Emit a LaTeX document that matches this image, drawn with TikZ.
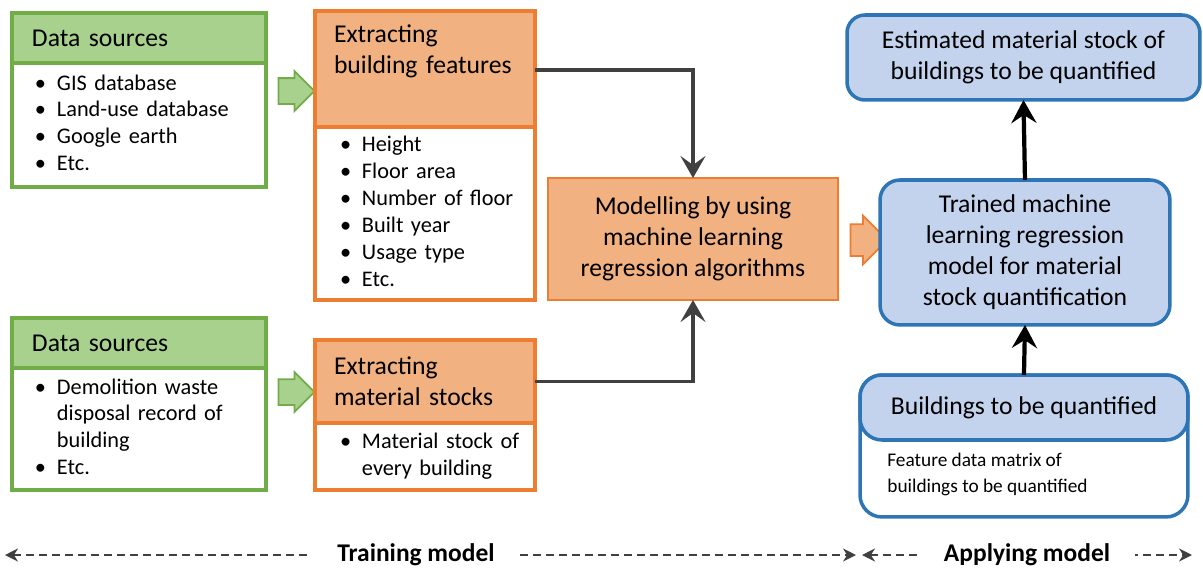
\documentclass[tikz,border=0pt]{standalone}
\usepackage{fontspec}
\setmainfont{Carlito}
\usetikzlibrary{positioning, arrows.meta, shapes.arrows}
\definecolor{greenfill}{RGB}{169,209,142}
\definecolor{greenline}{RGB}{112,173,71}
\definecolor{orangefill}{RGB}{241,177,128}
\definecolor{orangeline}{RGB}{237,125,49}
\definecolor{bluefill}{RGB}{196,211,237}
\definecolor{blueline}{RGB}{46,117,182}
\definecolor{darkline}{RGB}{64,64,64}
\newcommand{\hdrfont}{\fontsize{14.6}{17.6}\selectfont}
\newcommand{\lstfont}{\fontsize{12.7}{15.3}\selectfont}
\newcommand{\notefont}{\fontsize{11}{14.8}\selectfont}
\newcommand{\blt}{\makebox[0.44cm][l]{\textbullet}}
\newcommand{\bltpad}{\hspace*{0.44cm}}
\newcommand{\blist}[1]{\begin{tabular}{@{}l@{}}#1\end{tabular}}
\tikzset{
  greenhead/.style={
    rectangle, draw=greenline, fill=greenfill, line width=2.2pt,
    minimum width=5.08cm, minimum height=1cm, outer sep=0pt,
    inner xsep=0.4cm, text width=4.28cm, align=left, font=\hdrfont
  },
  greenbody/.style={
    rectangle, draw=greenline, fill=white, line width=2.2pt,
    minimum width=5.08cm, outer sep=0pt,
    inner xsep=0.46cm, text width=4.16cm, align=left, font=\lstfont
  },
  orangehead/.style={
    rectangle, draw=orangeline, fill=orangefill, line width=2.2pt,
    minimum width=4.4cm, outer sep=0pt,
    inner xsep=0.38cm, text width=3.64cm, align=left, font=\hdrfont
  },
  orangebody/.style={
    rectangle, draw=orangeline, fill=white, line width=2.2pt,
    minimum width=4.4cm, outer sep=0pt,
    inner xsep=0.5cm, text width=3.4cm, align=left, font=\lstfont
  },
  modelbox/.style={
    rectangle, draw=orangeline, fill=orangefill, line width=1.4pt,
    outer sep=0pt, align=center, font=\hdrfont
  },
  bluebox/.style={
    rectangle, rounded corners=0.4cm, draw=blueline, fill=bluefill,
    line width=2pt, outer sep=0pt, align=center, font=\hdrfont
  },
  blueframe/.style={
    rectangle, rounded corners=0.44cm, draw=blueline, fill=white,
    line width=2pt, outer sep=0pt
  },
  notetext/.style={align=left, font=\notefont, inner sep=0pt},
  greenarrow/.style={
    single arrow, draw=greenline, fill=greenfill, line width=1pt,
    inner xsep=0pt, inner ysep=0.24cm, single arrow head extend=0.14cm,
    minimum height=0.72cm, minimum width=0.76cm
  },
  orangearrow/.style={
    single arrow, draw=orangeline, fill=orangefill, line width=1pt,
    inner xsep=0pt, inner ysep=0.3cm, single arrow head extend=0.17cm,
    minimum height=0.74cm, minimum width=0.94cm
  },
  flowarrow/.style={
    -{Stealth[length=0.44cm, width=0.5cm, inset=0.18cm]},
    draw=darkline, line width=2pt
  },
  blackarrow/.style={
    -{Stealth[length=0.46cm, width=0.5cm, inset=0.16cm]},
    draw=black, line width=2.4pt
  },
  spanline/.style={
    {Stealth[length=0.26cm, width=0.26cm]}-{Stealth[length=0.26cm, width=0.26cm]},
    draw=darkline, line width=1.2pt, dash pattern=on 0.16cm off 0.1cm
  },
  spanlabel/.style={fill=white, inner xsep=0.5cm, font=\bfseries\fontsize{14.5}{17}\selectfont}
}
\begin{document}
\begin{tikzpicture}[x=0.02cm, y=-0.02cm]
  \useasboundingbox (0,0) rectangle (1203,572);

  % training: data sources
  \node[greenhead, anchor=north west] (ds1h) at (12,13) {Data sources};
  \node[greenbody, below=0pt of ds1h, minimum height=2.48cm] (ds1b)
    {\blist{\blt GIS database\\ \blt Land-use database\\ \blt Google earth\\ \blt Etc.}};
  \node[greenhead, anchor=north west] (ds2h) at (12,318) {Data sources};
  \node[greenbody, below=0pt of ds2h, minimum height=2.44cm] (ds2b)
    {\blist{\blt Demolition waste\\ \bltpad disposal record of\\ \bltpad building\\ \blt Etc.}};

  \node[greenarrow] (ga1) at (290,91) {};
  \node[greenarrow] (ga2) at (290,392) {};

  % training: extraction
  \node[orangehead, anchor=north west, minimum height=2.32cm] (ef1h) at (315,11)
    {Extracting\\building features\\\strut};
  \node[orangebody, below=0pt of ef1h, minimum height=3.46cm] (ef1b)
    {\blist{\blt Height\\ \blt Floor area\\ \blt Number of floor\\ \blt Built year\\ \blt Usage type\\ \blt Etc.}};
  \node[orangehead, anchor=north west, minimum height=1.66cm] (ef2h) at (315,340)
    {Extracting\\material stocks};
  \node[orangebody, below=0pt of ef2h, minimum height=1.34cm] (ef2b)
    {\blist{\blt Material stock of\\ \bltpad every building}};

  \node[modelbox, anchor=north west, minimum width=5.8cm, minimum height=2.44cm] (model) at (548,178)
    {Modelling by using\\machine learning\\regression algorithms};

  \draw[flowarrow] (ef1h.east |- 0,70) -| (model.north);
  \draw[flowarrow] (ef2h.east) -| (model.south);

  \node[orangearrow] (oa) at (861,240) {};

  % applying
  \node[bluebox, anchor=north west, minimum width=5.8cm, minimum height=2.9cm] (trained) at (880,180)
    {Trained machine\\learning regression\\model for material\\stock quantification};
  \node[bluebox, anchor=north west, minimum width=7.06cm, minimum height=1.7cm, rounded corners=0.36cm] (est) at (847,15)
    {Estimated material stock of\\buildings to be quantified};
  \node[blueframe, anchor=north west, minimum width=6.56cm, minimum height=2.84cm] (bq) at (860,375) {};
  \node[bluebox, anchor=north west, minimum width=6.56cm, minimum height=1.3cm, rounded corners=0.44cm] (bqh) at (860,375)
    {Buildings to be quantified};
  \node[notetext, anchor=west] (bqt) at (887,474) {Feature data matrix of\\buildings to be quantified};

  \draw[blackarrow] (trained.north) -- (est.south);
  \draw[blackarrow] (bqh.north) -- (trained.south);

  % phases
  \coordinate (trL) at (5,555);
  \coordinate (trR) at (856,555);
  \coordinate (apL) at (862,555);
  \coordinate (apR) at (1192,555);
  \draw[spanline] (trL) -- node[spanlabel, pos=0.483] (trlbl) {Training model} (trR);
  \draw[spanline] (apL) -- node[spanlabel] (aplbl) {Applying model} (apR);
\end{tikzpicture}
\end{document}
